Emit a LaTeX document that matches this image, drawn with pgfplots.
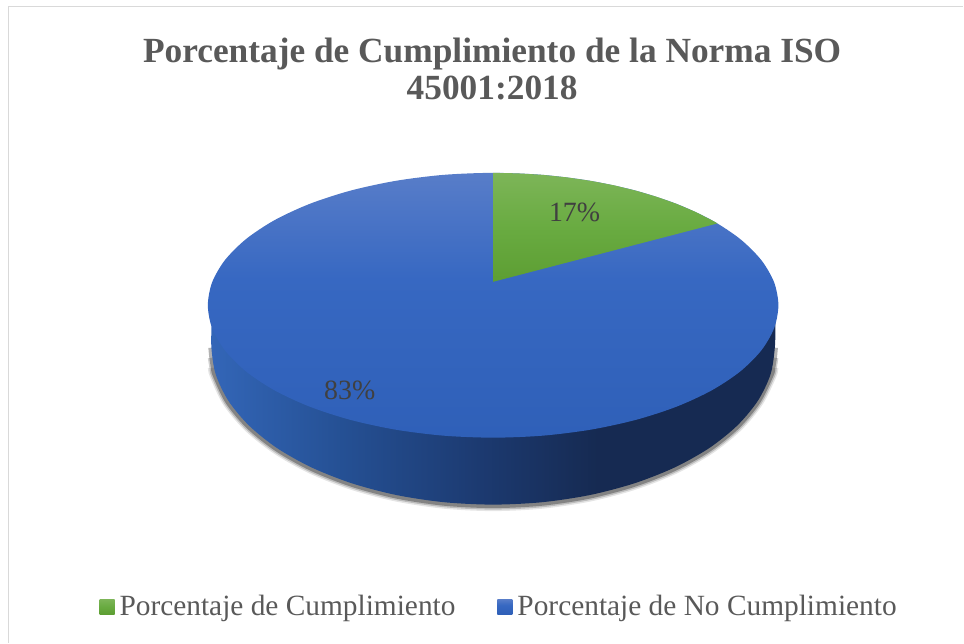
\documentclass[border=0pt]{standalone}
\usepackage{pgfplots}
\pgfplotsset{compat=1.18}
\usepackage{fontspec}
\setmainfont{Liberation Serif}
\definecolor{titlegray}{HTML}{595959}
\definecolor{labelgray}{HTML}{404040}
\definecolor{framegray}{HTML}{D9D9D9}
\pgfdeclareverticalshading{bluetopb}{100bp}{%
 rgb(0bp)=(0.184,0.376,0.722);rgb(25bp)=(0.184,0.376,0.722);rgb(55bp)=(0.216,0.408,0.760);rgb(75bp)=(0.345,0.490,0.788);rgb(100bp)=(0.345,0.490,0.788)}
\pgfdeclareverticalshading{greentop}{100bp}{%
 rgb(0bp)=(0.365,0.620,0.200);rgb(25bp)=(0.365,0.620,0.200);rgb(50bp)=(0.412,0.671,0.255);rgb(75bp)=(0.490,0.710,0.345);rgb(100bp)=(0.490,0.710,0.345)}
\pgfdeclarehorizontalshading{blueside}{100bp}{%
 rgb(0bp)=(0.200,0.400,0.720);rgb(25bp)=(0.200,0.400,0.720);rgb(36.6bp)=(0.145,0.314,0.580);rgb(48.9bp)=(0.110,0.227,0.440);rgb(59.3bp)=(0.086,0.165,0.320);rgb(75bp)=(0.086,0.165,0.320);rgb(100bp)=(0.086,0.165,0.320)}
\pgfplotstableread{
x y
211.0 348
212.0 358
213.6 368
215.3 375.4
228.0 402
249.0 427
277.5 449.6
312.2 469
352.5 484.8
397.1 496.5
444.5 503.6
493.5 506
542.5 503.6
589.9 496.5
634.5 484.8
674.8 469
709.5 449.6
737.7 427
758.5 402
771.7 375.4
773.4 368
775.0 358
776.0 348
}\shadowarc
\begin{document}
\begin{tikzpicture}
\begin{axis}[
  scale only axis, width=964bp, height=643bp,
  xmin=0, xmax=964, ymin=0, ymax=643, y dir=reverse,
  hide axis, clip=false,
  legend style={draw=none, fill=none, at={(axis cs:499.5,607)}, anchor=center,
    legend columns=2, font=\fontsize{29.5}{30}\selectfont, text=titlegray,
    /tikz/every even column/.append style={column sep=40bp},
    /tikz/every odd column/.append style={column sep=3bp},
    inner sep=0pt},
  legend cell align=left,
]
\path (axis cs:0,0) rectangle (axis cs:964,643);
% legend
\addlegendimage{legend image code/.code={\path[draw=none, shading=greentop] (0bp,-7.5bp) rectangle (15bp,7.5bp);}}
\addlegendentry{Porcentaje de Cumplimiento}
\addlegendimage{legend image code/.code={\path[draw=none, shading=bluetopb] (0bp,-7.5bp) rectangle (15bp,7.5bp);}}
\addlegendentry{Porcentaje de No Cumplimiento}
% frame
\addplot[framegray, line width=1.5bp, forget plot] coordinates {(8.5,643) (8.5,6.5) (964,6.5)};
% soft shadow, tapering toward the ends
\addplot[smooth, black, opacity=.10, line width=11bp, forget plot, skip coords between index={0}{2}, skip coords between index={21}{23}] table {\shadowarc};
\addplot[smooth, black, opacity=.18, line width=8bp, forget plot, skip coords between index={0}{1}, skip coords between index={22}{23}] table {\shadowarc};
\addplot[smooth, black, opacity=.30, line width=5bp, forget plot] table {\shadowarc};
% side wall
\addplot[draw=none, shading=blueside, smooth, forget plot] coordinates {
(212,320)(211.5,347)(215.8,374.4)(228.5,401)(249.3,426)(277.5,448.6)(312.2,468)(352.5,483.8)(397.1,495.5)(444.5,502.6)(493.5,505)(542.5,502.6)(589.9,495.5)(634.5,483.8)(674.8,468)(709.5,448.6)(737.7,426)(758.5,401)(771.2,374.4)(775.5,347)(776,320)
} --cycle;
% top face: no-compliance (83%) drawn as full disc
\addplot[draw=none, shading=bluetopb, smooth cycle, forget plot] coordinates {
(493.5,173)(543.1,175)(591.1,181)(636.3,190.8)(677,204)(712.2,220.3)(740.7,239.2)(761.8,260.2)(774.7,282.5)(779,305.5)(774.7,328.5)(761.8,350.8)(740.7,371.8)(712.2,390.7)(677,407)(636.3,420.2)(591.1,430)(543.1,436)(493.5,438)(443.9,436)(395.9,430)(350.7,420.2)(310,407)(274.8,390.7)(246.3,371.8)(225.2,350.8)(212.3,328.5)(208,305.5)(212.3,282.5)(225.2,260.2)(246.3,239.2)(274.8,220.3)(310,204)(350.7,190.8)(395.9,181)(443.9,175)
};
% compliance wedge (17%)
\addplot[draw=none, shading=greentop, forget plot] coordinates {
(493.5,282)(493.5,173)(518.4,173.5)(543.1,175)(567.4,177.5)(591.1,181)(614.2,185.4)(636.3,190.8)(657.3,197)(677,204)(695.4,211.8)(712.2,220.3)(718,223.6)
} --cycle;
\node[font=\fontsize{28}{30}\selectfont, text=labelgray] at (axis cs:575,213) {17\%};
\node[font=\fontsize{28}{30}\selectfont, text=labelgray] at (axis cs:350,391) {83\%};
\node[font=\fontsize{35.5}{38}\selectfont\bfseries, text=titlegray, align=center] at (axis cs:492.5,69) {Porcentaje de Cumplimiento de la Norma ISO\\45001:2018};
\end{axis}
\end{tikzpicture}
\end{document}
